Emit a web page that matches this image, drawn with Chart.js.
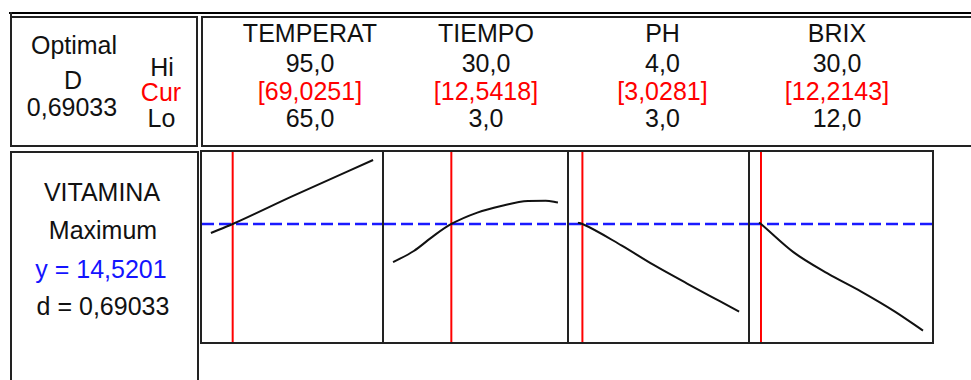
<!DOCTYPE html>
<html>
<head>
<meta charset="utf-8">
<title>Response optimization – VITAMINA</title>
<script src="https://cdn.jsdelivr.net/npm/chart.js@4.4.1/dist/chart.umd.min.js"></script>
<style>
  html, body { margin: 0; padding: 0; background: #fff; }
  body { width: 971px; height: 380px; position: relative; overflow: hidden;
         font-family: "Liberation Sans", Arial, sans-serif; }
  .t { position: absolute; font-size: 25px; line-height: 25px; white-space: nowrap;
       transform: translate(-50%, -50%) scaleY(1.05); color: #111; }
  .red { color: #ff0000; }
  .blue { color: #1414ff; }
  .box { position: absolute; border: 2px solid #222; box-sizing: border-box; }
  .ln { position: absolute; background: #222; }
  canvas { position: absolute; }
</style>
</head>
<body>
<script>
// ---- optimizer settings ----
const factorNames = ['TEMPERAT', 'TIEMPO', 'PH', 'BRIX'];
const hiLevels  = [95.0, 30.0, 4.0, 30.0];
const loLevels  = [65.0, 3.0, 3.0, 12.0];
const curLevels = [69.0251, 12.5418, 3.0281, 12.2143];
const decimalsCur = 4;
const decimalsLevel = 1;

const responseName = 'VITAMINA';
const responseGoal = 'Maximum';
const yPredicted = 14.5201;
const dIndividual = 0.69033;
const dComposite = 0.69033;

// ---- predicted VITAMINA along each factor (other factors at current setting) ----
const temperatX = [65, 69.0251, 80, 95];
const temperatY = [14.07, 14.52, 15.90, 17.72];

const tiempoX = [3, 6.4, 9.7, 12.5418, 16.8, 20.7, 25.1, 28, 30];
const tiempoY = [12.61, 13.17, 13.94, 14.52, 15.09, 15.42, 15.67, 15.68, 15.60];

const phX = [3.0, 3.0281, 3.27, 3.47, 3.68, 3.88, 4.0];
const phY = [14.59, 14.52, 13.45, 12.47, 11.53, 10.66, 10.14];

const brixX = [12, 12.2143, 15.81, 19.52, 23.22, 26.92, 30];
const brixY = [14.60, 14.52, 13.10, 12.05, 11.14, 10.14, 9.19];

const curvesX = [temperatX, tiempoX, phX, brixX];
const curvesY = [temperatY, tiempoY, phY, brixY];

// ---- helpers ----
const fmt = (v, d) => v.toFixed(d).replace('.', ',');

function addText(txt, x, y, cls) {
  const el = document.createElement('div');
  el.className = 't' + (cls ? ' ' + cls : '');
  el.style.left = x + 'px';
  el.style.top = y + 'px';
  el.textContent = txt;
  document.body.appendChild(el);
}
function addBox(l, t, w, h) {
  const el = document.createElement('div');
  el.className = 'box';
  Object.assign(el.style, { left: l + 'px', top: t + 'px', width: w + 'px', height: h + 'px' });
  document.body.appendChild(el);
}
function addLine(l, t, w, h, color) {
  const el = document.createElement('div');
  el.className = 'ln';
  Object.assign(el.style, { left: l + 'px', top: t + 'px', width: w + 'px', height: h + 'px' });
  if (color) el.style.background = color;
  document.body.appendChild(el);
}

// ---- frames ----
addLine(9, 12, 962, 2, '#000');     // heavy rule across the top
addLine(10, 12, 2, 6);
addBox(10, 16, 188, 131);           // "Optimal D" header cell
addBox(201, 16, 790, 131);          // factor settings header
addBox(10, 151, 189, 260);          // response cell

// ---- header texts ----
addText('Optimal', 74, 45);
addText('D', 73, 79.5);
addText(fmt(dComposite, 5), 72, 107);
addText('Hi', 162, 66.5);
addText('Cur', 161, 91.7, 'red');
addText('Lo', 161.5, 117.5);

const headerCols = [310, 486, 662.5, 837];
factorNames.forEach((name, i) => {
  const cx = headerCols[i];
  addText(name, cx, 33);
  addText(fmt(hiLevels[i], decimalsLevel), cx, 62.5);
  addText('[' + fmt(curLevels[i], decimalsCur) + ']', cx, 91, 'red');
  addText(fmt(loLevels[i], decimalsLevel), cx, 117.5);
});

// ---- response texts ----
addText(responseName, 102, 191.7);
addText(responseGoal, 103, 230);
addText('y = ' + fmt(yPredicted, 4), 101, 268.5, 'blue');
addText('d = ' + fmt(dIndividual, 5), 103, 305.7);

// ---- panel strip ----
const stripLeft = 200, stripTop = 150, stripW = 734, stripH = 194;
addBox(stripLeft, stripTop, stripW, stripH);
const dividers = [382, 567, 748];
dividers.forEach(x => addLine(x, stripTop, 2, stripH));
const cellEdges = [[202, 382], [384, 567], [569, 748], [750, 932]];
const cellTop = stripTop + 2, cellH = stripH - 4;

// shared vertical scale for all factor panels
const allY = curvesY.flat();
const dataMin = Math.min(...allY), dataMax = Math.max(...allY);
const span = dataMax - dataMin;
const yMin = dataMin - 0.067 * span;
const yMax = dataMax + 0.047 * span;

const xPadFrac = 0.055;

cellEdges.forEach(([x0, x1], i) => {
  const cv = document.createElement('canvas');
  cv.width = x1 - x0;
  cv.height = cellH;
  cv.style.left = x0 + 'px';
  cv.style.top = cellTop + 'px';
  cv.style.width = (x1 - x0) + 'px';
  cv.style.height = cellH + 'px';
  document.body.appendChild(cv);

  const lo = loLevels[i], hi = hiLevels[i], cur = curLevels[i];
  const pad = xPadFrac * (hi - lo);
  const xMin = lo - pad, xMax = hi + pad;

  new Chart(cv, {
    type: 'scatter',
    data: {
      datasets: [
        {
          label: responseName,
          data: curvesX[i].map((x, k) => ({ x, y: curvesY[i][k] })),
          showLine: true,
          borderColor: '#111',
          borderWidth: 2,
          pointRadius: 0,
          cubicInterpolationMode: 'monotone'
        },
        {
          label: 'current ' + factorNames[i],
          data: [{ x: cur, y: yMin }, { x: cur, y: yMax }],
          showLine: true,
          borderColor: '#ff0000',
          borderWidth: 2,
          pointRadius: 0
        },
        {
          label: 'y',
          data: [{ x: xMin, y: yPredicted }, { x: xMax, y: yPredicted }],
          showLine: true,
          borderColor: '#1a1aff',
          borderWidth: 2.5,
          borderDash: [12, 5],
          pointRadius: 0
        }
      ]
    },
    options: {
      responsive: false,
      animation: false,
      events: [],
      layout: { padding: 0 },
      plugins: { legend: { display: false }, tooltip: { enabled: false } },
      scales: {
        x: { type: 'linear', min: xMin, max: xMax, display: false },
        y: { type: 'linear', min: yMin, max: yMax, display: false }
      }
    }
  });
});
</script>
</body>
</html>
